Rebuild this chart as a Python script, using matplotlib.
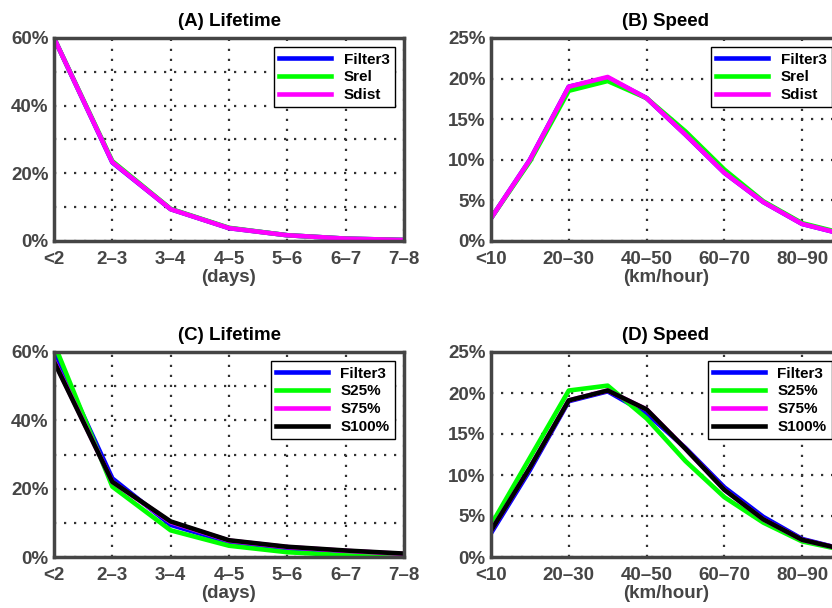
import numpy as np
import matplotlib.pyplot as plt

plt.rcParams['font.family'] = ['Liberation Sans', 'DejaVu Sans']
plt.rcParams['font.weight'] = 'bold'

life_cats = ['<2', '2–3', '3–4', '4–5', '5–6', '6–7', '7–8']
speed_cats = ['<10', '10–20', '20–30', '30–40', '40–50', '50–60', '60–70', '70–80', '80–90', '90–100']

# (A) lifetime, %
a_filter3 = [60.0, 23.2, 9.4, 3.8, 1.7, 0.7, 0.3]
a_srel = [60.0, 23.6, 9.5, 3.9, 1.7, 0.7, 0.3]
a_sdist = [60.0, 23.3, 9.4, 3.8, 1.7, 0.7, 0.3]

# (B) speed, %
b_filter3 = [2.8, 10.0, 19.0, 20.1, 17.6, 13.1, 8.4, 4.8, 2.1, 0.9]
b_srel = [2.8, 9.8, 18.5, 19.7, 17.6, 13.5, 8.8, 4.9, 2.2, 1.0]
b_sdist = [2.8, 10.0, 19.0, 20.2, 17.6, 13.1, 8.4, 4.8, 2.1, 0.9]

# (C) lifetime, %
c_filter3 = [60.0, 23.0, 9.4, 4.3, 2.1, 1.0, 0.4]
c_s25 = [62.5, 20.6, 7.8, 3.3, 1.4, 0.5, 0.2]
c_s75 = [57.5, 22.0, 10.2, 4.8, 2.9, 1.8, 0.9]
c_s100 = [57.2, 22.0, 10.4, 4.9, 3.0, 1.9, 1.0]

# (D) speed, %
d_filter3 = [2.9, 10.6, 19.0, 20.2, 17.5, 13.3, 8.5, 4.9, 2.2, 1.0]
d_s25 = [3.9, 12.1, 20.3, 20.9, 16.9, 11.7, 7.3, 4.2, 1.9, 0.9]
d_s75 = [3.2, 10.9, 19.1, 20.3, 18.0, 13.2, 8.2, 4.6, 2.1, 1.0]
d_s100 = [3.2, 10.9, 19.1, 20.3, 18.0, 13.2, 8.2, 4.6, 2.1, 1.0]

grey = '#454545'
W, H = 832, 608
fig = plt.figure(figsize=(W / 100, H / 100), dpi=100)


def make_ax(x0, y0, x1, y1):
    return fig.add_axes([x0 / W, 1 - y1 / H, (x1 - x0) / W, (y1 - y0) / H])


def style(ax, title, cats, step, ymax, ystep, ylab_every, xlabel):
    ax.set_title(title, fontsize=13.5, fontweight='bold', pad=9)
    x = np.arange(len(cats))
    ax.set_xlim(0, len(cats) - 1)
    ax.set_xticks(x[::step])
    ax.set_xticklabels(cats[::step])
    yt = np.arange(0, ymax + 0.1, ystep)
    ax.set_ylim(0, ymax)
    ax.set_yticks(yt)
    ax.set_yticklabels(['%d%%' % v if i % ylab_every == 0 else '' for i, v in enumerate(yt)])
    ax.tick_params(direction='in', length=0, labelsize=13.5, colors=grey)
    ax.tick_params(axis='x', pad=7)
    ax.tick_params(axis='y', pad=4)
    for s in ax.spines.values():
        s.set_color(grey)
        s.set_linewidth(2.5)
    ax.grid(True, color='#333333', linestyle=(0, (1, 3.5)), linewidth=1.6)
    ax.set_axisbelow(True)
    ax.set_xlabel(xlabel, fontsize=13.5, fontweight='bold', color=grey, labelpad=1)


def legend(ax):
    leg = ax.legend(loc='upper right', fontsize=11, handlelength=3.4, borderaxespad=0.6,
                    labelspacing=0.25, fancybox=False, framealpha=1, borderpad=0.35)
    leg.get_frame().set_edgecolor('black')
    leg.get_frame().set_linewidth(1.0)


lw = 3.3

ax = make_ax(54, 38, 404, 241)
x = np.arange(len(life_cats))
ax.plot(x, a_filter3, color='#0000ff', lw=lw, label='Filter3')
ax.plot(x, a_srel, color='#00ff00', lw=lw, label='Srel')
ax.plot(x, a_sdist, color='#ff00ff', lw=lw, label='Sdist')
style(ax, '(A) Lifetime', life_cats, 1, 60, 10, 2, '(days)')
legend(ax)

ax = make_ax(491, 38, 841, 241)
x = np.arange(len(speed_cats))
ax.plot(x, b_filter3, color='#0000ff', lw=lw, label='Filter3')
ax.plot(x, b_srel, color='#00ff00', lw=lw, label='Srel')
ax.plot(x, b_sdist, color='#ff00ff', lw=lw, label='Sdist')
style(ax, '(B) Speed', speed_cats, 2, 25, 5, 1, '(km/hour)')
legend(ax)

ax = make_ax(54, 352, 404, 557)
x = np.arange(len(life_cats))
ax.plot(x, c_filter3, color='#0000ff', lw=lw, label='Filter3')
ax.plot(x, c_s25, color='#00ff00', lw=lw, label='S25%')
ax.plot(x, c_s75, color='#ff00ff', lw=lw, label='S75%')
ax.plot(x, c_s100, color='black', lw=lw, label='S100%')
style(ax, '(C) Lifetime', life_cats, 1, 60, 10, 2, '(days)')
legend(ax)

ax = make_ax(491, 352, 841, 557)
x = np.arange(len(speed_cats))
ax.plot(x, d_filter3, color='#0000ff', lw=lw, label='Filter3')
ax.plot(x, d_s25, color='#00ff00', lw=lw, label='S25%')
ax.plot(x, d_s75, color='#ff00ff', lw=lw, label='S75%')
ax.plot(x, d_s100, color='black', lw=lw, label='S100%')
style(ax, '(D) Speed', speed_cats, 2, 25, 5, 1, '(km/hour)')
legend(ax)

fig.savefig('out.png', dpi=100)
